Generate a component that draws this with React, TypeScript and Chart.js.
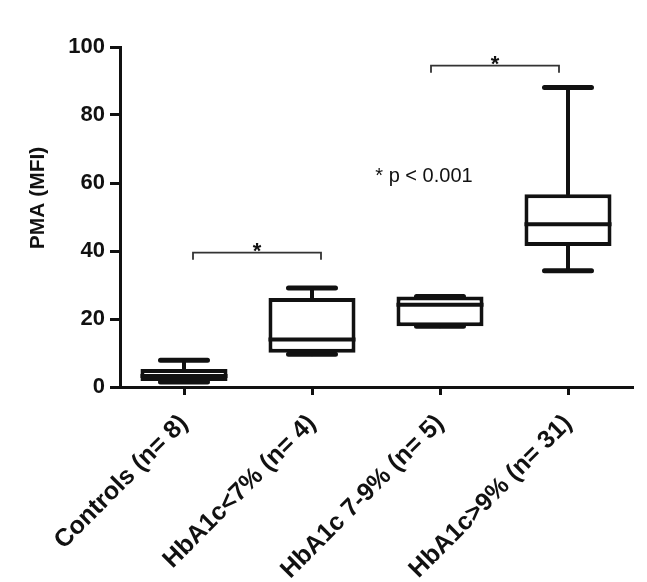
import React, { useEffect, useRef } from "react";
import { Chart, registerables } from "chart.js";

Chart.register(...registerables);

const categories = ["Controls (n= 8)", "HbA1c<7% (n= 4)", "HbA1c 7-9% (n= 5)", "HbA1c>9% (n= 31)"];
const minValues = [1.5, 9.6, 17.9, 34.2];
const q1Values = [1.8, 10.1, 17.9, 41.5];
const medianValues = [3.2, 14.0, 24.2, 47.9];
const q3Values = [5.3, 26.2, 26.6, 56.7];
const maxValues = [7.9, 29.1, 26.6, 88.1];
const bracketFrom = [0, 2];
const bracketTo = [1, 3];
const bracketY = [39.5, 94.5];
const bracketShift = [9, -9];
const bracketMark = "*";
const pValueText = "* p < 0.001";
const pValueY = 62;
const yTitle = "PMA (MFI)";
const yMin = 0;
const yMax = 100;
const yStep = 20;

const FONT = "'Liberation Sans', Arial, sans-serif";

const boxPlugin = {
  id: "boxExtras",
  beforeDatasetsDraw(chart: any) {
    const ctx = chart.ctx;
    const y = chart.scales.y;
    const meta = chart.getDatasetMeta(0);
    ctx.save();
    ctx.strokeStyle = "#111";
    ctx.lineCap = "round";
    meta.data.forEach((bar: any, i: number) => {
      const cx = bar.x;
      const capHalf = bar.width * 0.27;
      ctx.lineWidth = 4;
      ctx.beginPath();
      ctx.moveTo(cx, y.getPixelForValue(q3Values[i]));
      ctx.lineTo(cx, y.getPixelForValue(maxValues[i]));
      ctx.moveTo(cx, y.getPixelForValue(q1Values[i]));
      ctx.lineTo(cx, y.getPixelForValue(minValues[i]));
      ctx.stroke();
      ctx.lineWidth = 5;
      ctx.beginPath();
      ctx.moveTo(cx - capHalf, y.getPixelForValue(maxValues[i]));
      ctx.lineTo(cx + capHalf, y.getPixelForValue(maxValues[i]));
      ctx.moveTo(cx - capHalf, y.getPixelForValue(minValues[i]));
      ctx.lineTo(cx + capHalf, y.getPixelForValue(minValues[i]));
      ctx.stroke();
    });
    ctx.restore();
  },
  afterDatasetsDraw(chart: any) {
    const ctx = chart.ctx;
    const x = chart.scales.x;
    const y = chart.scales.y;
    const meta = chart.getDatasetMeta(0);
    ctx.save();
    ctx.strokeStyle = "#111";
    ctx.lineWidth = 4;
    ctx.lineCap = "butt";
    meta.data.forEach((bar: any, i: number) => {
      const py = y.getPixelForValue(medianValues[i]);
      ctx.beginPath();
      ctx.moveTo(bar.x - bar.width / 2, py);
      ctx.lineTo(bar.x + bar.width / 2, py);
      ctx.stroke();
    });
    // brackets
    ctx.lineWidth = 1.8;
    ctx.strokeStyle = "#333";
    bracketFrom.forEach((f, k) => {
      const x1 = x.getPixelForValue(f) + bracketShift[k];
      const x2 = x.getPixelForValue(bracketTo[k]) + bracketShift[k];
      const py = y.getPixelForValue(bracketY[k]);
      ctx.beginPath();
      ctx.moveTo(x1, py + 7);
      ctx.lineTo(x1, py);
      ctx.lineTo(x2, py);
      ctx.lineTo(x2, py + 7);
      ctx.stroke();
      ctx.fillStyle = "#111";
      ctx.font = `bold 22px ${FONT}`;
      ctx.textAlign = "center";
      ctx.textBaseline = "alphabetic";
      ctx.fillText(bracketMark, (x1 + x2) / 2, py + 5);
    });
    // p value note
    ctx.fillStyle = "#111";
    ctx.font = `20px ${FONT}`;
    ctx.textAlign = "center";
    ctx.textBaseline = "alphabetic";
    const px = (x.getPixelForValue(1) + x.getPixelForValue(2)) / 2 + 48;
    ctx.fillText(pValueText, px, y.getPixelForValue(pValueY) + 6);
    // y title
    ctx.save();
    ctx.translate(38, (chart.chartArea.top + chart.chartArea.bottom) / 2 - 19);
    ctx.rotate(-Math.PI / 2);
    ctx.font = `bold 21px ${FONT}`;
    ctx.textAlign = "center";
    ctx.textBaseline = "middle";
    ctx.fillText(yTitle, 0, 0);
    ctx.restore();
    ctx.restore();
  },
};

export default function App() {
  const ref = useRef<HTMLCanvasElement | null>(null);
  useEffect(() => {
    if (!ref.current) return;
    const chart = new Chart(ref.current, {
      type: "bar",
      data: {
        labels: categories,
        datasets: [
          {
            data: q1Values.map((q, i) => [q, q3Values[i]]) as any,
            backgroundColor: "#ffffff",
            borderColor: "#111",
            borderWidth: 4,
            borderSkipped: false,
            barPercentage: 0.68,
            categoryPercentage: 1,
          },
        ],
      },
      options: {
        responsive: false,
        animation: false,
        devicePixelRatio: 1,
        layout: { padding: { top: 47, right: 15, left: 0, bottom: 0 } },
        plugins: { legend: { display: false }, tooltip: { enabled: false } },
        scales: {
          x: {
            offset: true,
            afterFit: (s: any) => {
              s.height = 195;
            },
            grid: { display: true, drawOnChartArea: false, drawTicks: true, tickLength: 8, lineWidth: 3, color: "#111", offset: false },
            border: { display: true, color: "#111", width: 3 },
            ticks: {
              autoSkip: false,
              maxRotation: 45,
              minRotation: 45,
              padding: 14,
              color: "#111",
              font: { family: FONT, size: 25, weight: "bold" },
            },
          },
          y: {
            min: yMin,
            max: yMax,
            afterFit: (s: any) => {
              s.width = 120;
            },
            grid: { display: true, drawOnChartArea: false, drawTicks: true, tickLength: 10, lineWidth: 3, color: "#111" },
            border: { display: true, color: "#111", width: 3 },
            ticks: {
              stepSize: yStep,
              padding: 5,
              color: "#111",
              font: { family: FONT, size: 22, weight: "bold" },
            },
          },
        },
      },
      plugins: [boxPlugin],
    });
    return () => chart.destroy();
  }, []);
  return (
    <div style={{ position: "fixed", left: 0, top: 0, width: 647, height: 582, background: "#fff" }}>
      <canvas ref={ref} width={647} height={582} style={{ width: 647, height: 582 }} />
    </div>
  );
}
